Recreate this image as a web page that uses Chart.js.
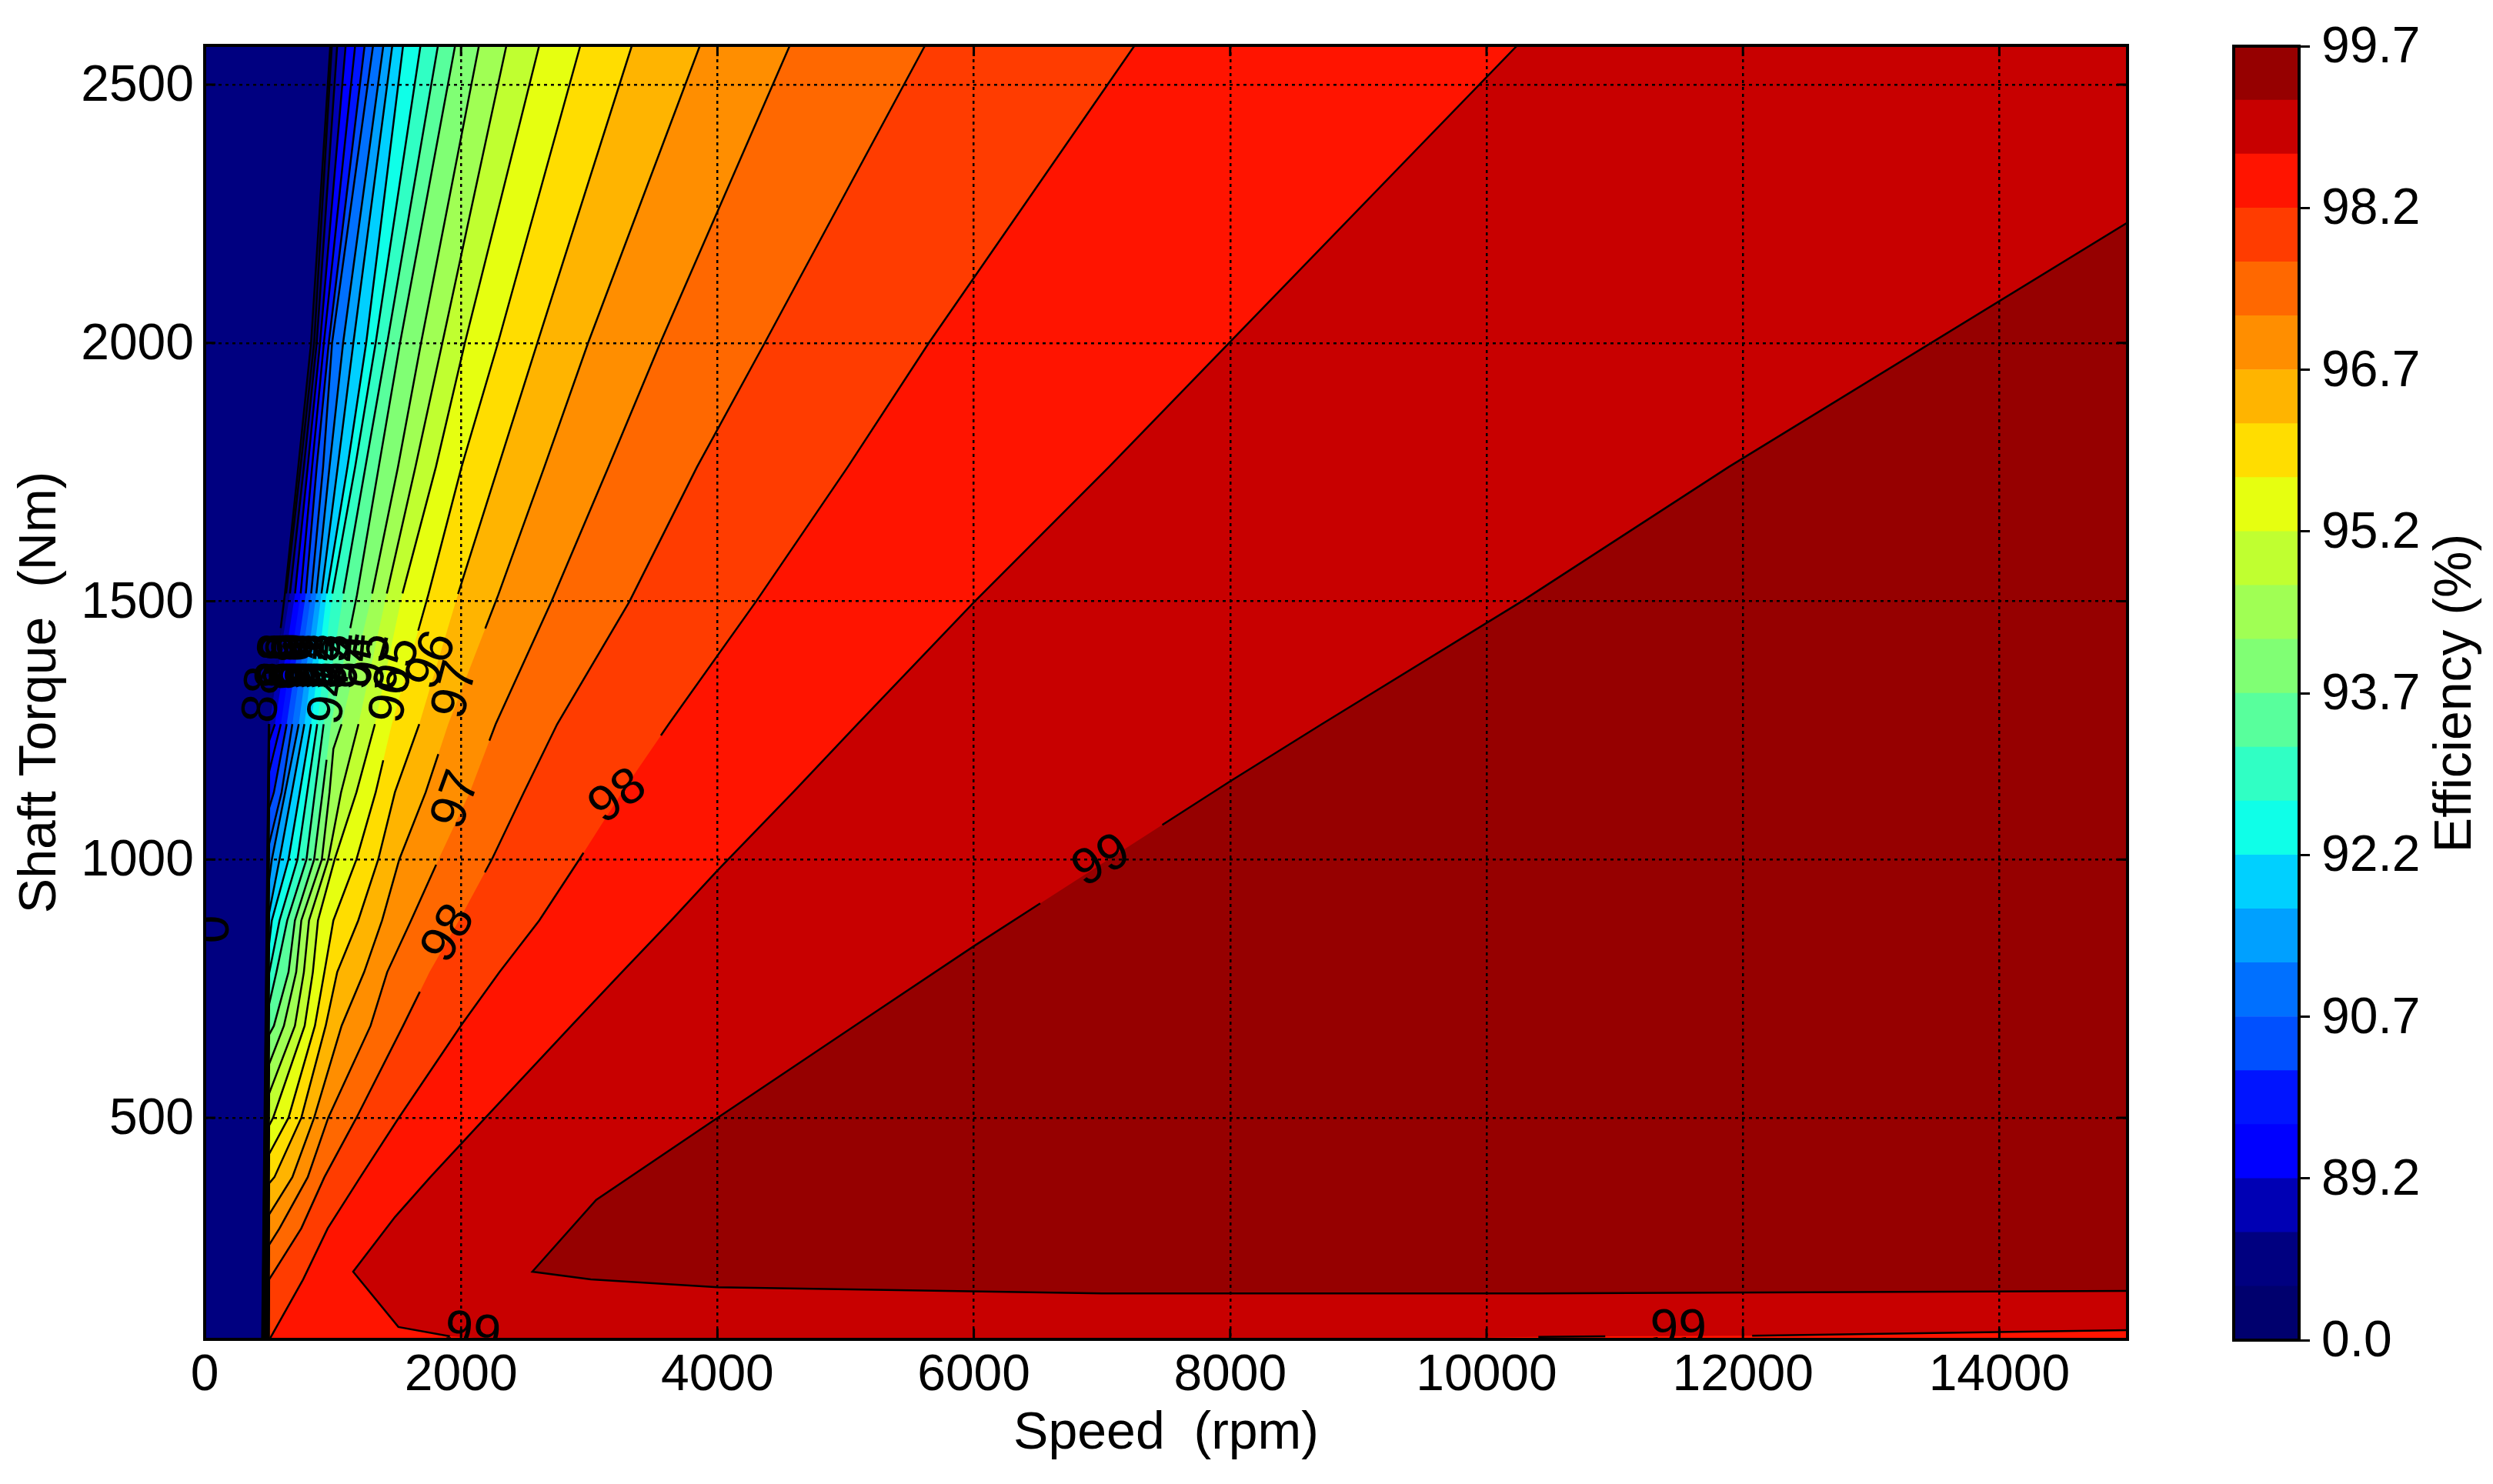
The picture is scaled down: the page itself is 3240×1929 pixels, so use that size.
<!DOCTYPE html>
<html><head><meta charset="utf-8"><title>Efficiency map</title>
<style>html,body{margin:0;padding:0;background:#fff;width:3240px;height:1929px;overflow:hidden}
canvas{position:absolute;top:0}</style>
<script src="https://cdn.jsdelivr.net/npm/chart.js@4/dist/chart.umd.min.js"></script>
</head><body>
<canvas id="main" width="3240" height="1929" style="left:0"></canvas>
<canvas id="bar" width="390" height="1929" style="left:2850px"></canvas>
<script>
const xTicks=[0,2000,4000,6000,8000,10000,12000,14000];
const yTicks=[500,1000,1500,2000,2500];
const xMax=15000, yMin=71, yMax=2576;
const barTickLabels=['0.0','89.2','90.7','92.2','93.7','95.2','96.7','98.2','99.7'];
const bandColors=['#00006e','#000080','#0000b4','#0000ff','#0014ff','#0050ff','#0070ff','#00a0ff','#00d0ff','#0fffe8','#30ffc4','#58ff9c','#80ff74','#a0ff54','#c0ff30','#e6ff10','#ffdd00','#ffb400','#ff8e00','#ff6800','#ff3c00','#ff1400','#c80000','#960000'];
const plotBase='#000080';
// contour lines: [speed rpm, torque Nm], one per level
const c00=[[980,2576],[830,2000],[730,1760],[625,1512],[500,1262],[448,72]];
const c01=[[992,2576],[854,2000],[748,1760],[634,1512],[502,1262],[451,72]];
const c02=[[1034,2576],[874,2000],[774,1760],[664,1512],[504,1262],[453,72]];
const c03=[[1100,2576],[900,2000],[804,1760],[704,1512],[548,1262],[503,1230],[456,72]];
const c04=[[1174,2576],[930,2000],[838,1760],[748,1512],[594,1262],[503,1170],[458,72]];
const c05=[[1248,2576],[968,2000],[874,1760],[788,1512],[640,1262],[540,1130],[503,1100],[461,72]];
const c06=[[1314,2576],[994,2000],[924,1760],[830,1512],[684,1262],[600,1130],[503,1030],[464,72]];
const c07=[[1394,2576],[1080,2000],[974,1760],[870,1512],[734,1262],[628,1130],[524,1000],[503,961],[466,72]];
const c08=[[1464,2576],[1160,2000],[1038,1760],[910,1512],[778,1262],[680,1130],[584,1000],[503,897],[469,72]];
const c09=[[1548,2576],[1260,2000],[1114,1760],[950,1512],[830,1262],[742,1130],[654,1000],[524,882],[503,837],[472,72]];
const c10=[[1684,2576],[1334,2000],[1174,1760],[994,1512],[878,1262],[800,1130],[724,1000],[584,882],[503,780],[474,72]];
const c11=[[1820,2576],[1424,2000],[1254,1760],[1080,1512],[928,1262],[860,1130],[794,1000],[644,882],[560,782],[503,720],[477,72]];
const c12=[[1954,2576],[1524,2000],[1358,1760],[1188,1512],[985,1262],[920,1130],[854,1000],[704,882],[654,782],[540,678],[503,661],[479,72]];
const c13=[[2140,2576],[1688,2000],[1508,1760],[1304,1512],[1068,1262],[1004,1214],[974,1130],[914,1000],[754,882],[714,782],[618,678],[503,604],[482,72]];
const c14=[[2354,2576],[1854,2000],[1644,1760],[1418,1512],[1200,1262],[1064,1130],[964,1000],[814,882],[774,782],[704,678],[503,547],[484,72]];
const c15=[[2610,2576],[2030,2000],[1804,1760],[1540,1512],[1328,1262],[1184,1130],[1014,1000],[884,882],[844,782],[780,678],[534,500],[503,485],[487,72]];
const c16=[[2931,2576],[2288,2000],[2004,1760],[1744,1512],[1460,1262],[1334,1130],[1184,1000],[1004,882],[934,782],[860,678],[654,500],[503,430],[490,72]];
const c17=[[3333,2576],[2595,2000],[2290,1760],[1974,1512],[1674,1262],[1484,1130],[1354,1000],[1198,882],[1034,782],[944,678],[754,500],[544,385],[503,373],[492,72]];
const c18=[[3864,2576],[2991,2000],[2650,1760],[2290,1512],[1900,1262],[1724,1130],[1518,1000],[1384,882],[1244,782],[1068,678],[854,500],[684,385],[503,313],[495,72]];
const c19=[[4565,2576],[3554,2000],[3150,1760],[2704,1499],[2270,1262],[2068,1130],[1824,1000],[1610,882],[1424,782],[1294,678],[964,500],[804,385],[584,286],[503,254],[497,72]];
const c20=[[5620,2576],[4369,2000],[3841,1760],[3313,1499],[2750,1262],[2490,1130],[2240,1000],[1984,882],[1754,782],[1548,678],[1184,500],[934,385],[754,286],[503,187],[500,72]];
const c21=[[7255,2576],[5649,2000],[5017,1760],[4300,1499],[3620,1262],[3255,1130],[2922,1000],[2610,882],[2300,782],[2004,680],[1514,500],[1214,385],[960,286],[768,187],[508,72]];
const c22=[[10240,2576],[7991,2000],[7055,1760],[6005,1499],[5092,1262],[4590,1130],[4001,979],[3640,882],[3255,782],[2860,678],[2190,500],[1760,385],[1485,308],[1158,202],[1511,95],[1913,77],[2300,71],[9000,71],[10404,76],[10926,77],[12072,78],[15000,89]];
const c23=[[15000,2233],[11890,1760],[10270,1499],[8715,1262],[7991,1150],[7050,1000],[6005,833],[5070,678],[4001,500],[3054,341],[2556,202],[3012,187],[4003,172],[7000,160],[10404,160],[15000,165]];
const contours=[c00,c01,c02,c03,c04,c05,c06,c07,c08,c09,c10,c11,c12,c13,c14,c15,c16,c17,c18,c19,c20,c21,c22,c23];
// torque spans where a line is broken for its inline label
const lineGaps=[[1448,1262],[1515,1262],[1515,1262],[1515,1262],[1515,1262],[1515,1262],[1515,1262],[1515,1262],[1515,1262],[1515,1262],[1515,1262],[1515,1262],[1448,1193],[1515,1262],[1515,1262],[1515,1262],[1443,1192],[1514,1262],[1447,1204],[1230,990],[975,744],[1240,1013],null,[1067,915]];
const skipSegments={22:[15,16,17,19]};
// inline labels: text, speed, torque, rotation (deg)
const contourLabels=[['0',78,865,-90],['98',1908,856,-60],['97',1968,1115,-70],['98',3226,1121,-36],['99',6998,996,-29],['99',2088,82,8],['99',11496,88,0],
['97',1962,1328,-75],['96',1776,1385,-66],['96',1464,1319,-80],['94',984,1316,-80],['88',462,1319,-85],
['88',565,1383,-85],['88',570,1383,-85],['89',585,1383,-85],['89',630,1383,-85],['90',675,1383,-85],['90',720,1383,-85],['91',760,1383,-85],['91',800,1383,-85],['92',845,1383,-85],['92',890,1383,-85],['93',935,1383,-85],['93',1005,1383,-85],['94',1085,1383,-85],['94',1185,1383,-85],['95',1305,1383,-80],['95',1512,1375,-75]];
const FONT='"Liberation Sans", Arial, sans-serif';
const TICK=66, TITLE=68, INLINE=66;

function toXY(a){return a.map(p=>({x:p[0],y:p[1]}));}
function strokeData(k){
  const c=contours[k],g=lineGaps[k],skip=skipSegments[k]||[],out=[];
  const brk=()=>out.push({x:NaN,y:NaN});
  for(let i=0;i<c.length-1;i++){
    if(skip.includes(i)){brk();continue;}
    const a=c[i],b=c[i+1];let ts=[0,1];
    if(g&&a[1]!==b[1])g.forEach(v=>{const t=(v-a[1])/(b[1]-a[1]);if(t>0&&t<1)ts.push(t);});
    ts.sort((p,q)=>p-q);
    for(let j=0;j<ts.length-1;j++){
      const at=t=>({x:a[0]+(b[0]-a[0])*t,y:a[1]+(b[1]-a[1])*t});
      const m=at((ts[j]+ts[j+1])/2);
      if(g&&m.y<g[0]&&m.y>g[1]){brk();continue;}
      out.push(at(ts[j]),at(ts[j+1]));
    }
  }
  return out;
}
const datasets=[];
contours.forEach((c,k)=>{
  const poly=c.slice();
  if(c[c.length-1][0]<xMax)poly.push([xMax,yMin]);
  if(c[0][0]<xMax)poly.push([xMax,yMax]);
  poly.push(c[0]);
  datasets.push({data:toXY(poly),showLine:true,pointRadius:0,borderWidth:0,borderColor:'rgba(0,0,0,0)',backgroundColor:bandColors[k],fill:'shape',tension:0,order:100-k});
});
contours.forEach((c,k)=>{
  datasets.push({data:strokeData(k),showLine:true,spanGaps:false,pointRadius:0,borderWidth:2.5,borderColor:'#000',fill:false,tension:0,order:0});
});
const framePlugin={id:'frame',
  beforeDatasetsDraw(ch){const a=ch.chartArea,x=ch.ctx;x.save();x.fillStyle=plotBase;x.fillRect(a.left,a.top,a.right-a.left,a.bottom-a.top);x.restore();},
  afterDraw(ch){
    const a=ch.chartArea,x=ch.ctx,sx=ch.scales.x,sy=ch.scales.y;
    x.save();
    x.beginPath();x.rect(a.left,a.top,a.right-a.left,a.bottom-a.top);x.clip();
    x.fillStyle='#000';x.font=INLINE+'px '+FONT;x.textAlign='center';x.textBaseline='middle';
    contourLabels.forEach(l=>{x.save();x.translate(sx.getPixelForValue(l[1]),sy.getPixelForValue(l[2]));x.rotate(l[3]*Math.PI/180);x.fillText(l[0],0,0);x.restore();});
    x.restore();
    x.save();x.strokeStyle='#000';x.lineWidth=3;
    xTicks.forEach(v=>{const p=sx.getPixelForValue(v);x.beginPath();x.moveTo(p,a.bottom);x.lineTo(p,a.bottom-14);x.moveTo(p,a.top);x.lineTo(p,a.top+14);x.stroke();});
    yTicks.forEach(v=>{const p=sy.getPixelForValue(v);x.beginPath();x.moveTo(a.left,p);x.lineTo(a.left+14,p);x.moveTo(a.right,p);x.lineTo(a.right-14,p);x.stroke();});
    x.lineWidth=4;x.strokeRect(a.left,a.top,a.right-a.left,a.bottom-a.top);
    // tick labels, placed from the scales' own ticks
    x.fillStyle='#000';x.font=TICK+'px '+FONT;x.textBaseline='middle';
    x.textAlign='center';sx.ticks.forEach((t,i)=>x.fillText(t.label,sx.getPixelForTick(i),1789));
    x.textAlign='right';sy.ticks.forEach((t,i)=>x.fillText(t.label,252,sy.getPixelForTick(i)+3));
    x.restore();
  }};
new Chart(document.getElementById('main'),{type:'scatter',data:{datasets},plugins:[framePlugin],options:{
  responsive:false,animation:false,events:[],
  layout:{padding:{left:0,right:3240-2765,top:59,bottom:0}},
  plugins:{legend:{display:false},tooltip:{enabled:false},filler:{drawTime:'beforeDatasetDraw'}},
  scales:{
    x:{type:'linear',min:0,max:xMax,
      afterBuildTicks(s){s.ticks=xTicks.map(v=>({value:v}));},
      afterFit(s){s.height=188;},
      ticks:{display:false,autoSkip:false,maxRotation:0,callback:v=>String(v)},
      grid:{color:'#000',lineWidth:2.5,z:1,drawTicks:false,tickLength:0},border:{display:false,dash:[4,5]},
      title:{display:true,text:'Speed  (rpm)',font:{family:FONT,size:TITLE},color:'#000',padding:{top:0,bottom:24}}},
    y:{type:'linear',min:yMin,max:yMax,
      afterBuildTicks(s){s.ticks=yTicks.map(v=>({value:v}));},
      afterFit(s){s.width=266;},
      ticks:{display:false,autoSkip:false,callback:v=>String(v)},
      grid:{color:'#000',lineWidth:2.5,z:1,drawTicks:false,tickLength:0},border:{display:false,dash:[4,5]},
      title:{display:true,text:'Shaft Torque  (Nm)',font:{family:FONT,size:TITLE},color:'#000',padding:{top:12,bottom:0}}}
  }}});
const barPlugin={id:'barFrame',afterDraw(ch){
  const a=ch.chartArea,x=ch.ctx,sy=ch.scales.y;x.save();x.strokeStyle='#000';x.lineWidth=4;x.strokeRect(a.left,a.top,a.right-a.left,a.bottom-a.top);
  x.fillStyle='#000';x.font=TICK+'px '+FONT;x.textAlign='left';x.textBaseline='middle';
  sy.ticks.forEach((t,i)=>x.fillText(t.label,167,sy.getPixelForTick(i)+3));
  x.font=TITLE+'px '+FONT;x.textAlign='center';
  x.translate(342,901);x.rotate(-Math.PI/2);x.fillText('Efficiency (%)',0,0);x.restore();}};
new Chart(document.getElementById('bar'),{type:'bar',
  data:{labels:[''],datasets:bandColors.map(c=>({data:[1],backgroundColor:c,borderWidth:0,barPercentage:1,categoryPercentage:1}))},
  plugins:[barPlugin],options:{responsive:false,animation:false,events:[],
  layout:{padding:{left:53,right:0,top:60,bottom:187}},
  plugins:{legend:{display:false},tooltip:{enabled:false}},
  scales:{x:{stacked:true,display:false},
    y:{stacked:true,position:'right',min:0,max:24,
      afterBuildTicks(s){s.ticks=barTickLabels.map((_,i)=>({value:i*3}));},
      afterFit(s){s.width=390-138;},
      ticks:{display:false,autoSkip:false,callback:(v)=>barTickLabels[v/3]},
      grid:{drawOnChartArea:false,drawTicks:true,tickLength:14,tickColor:'#000',tickWidth:3},border:{display:false}}
  }}});
</script>
</body></html>
